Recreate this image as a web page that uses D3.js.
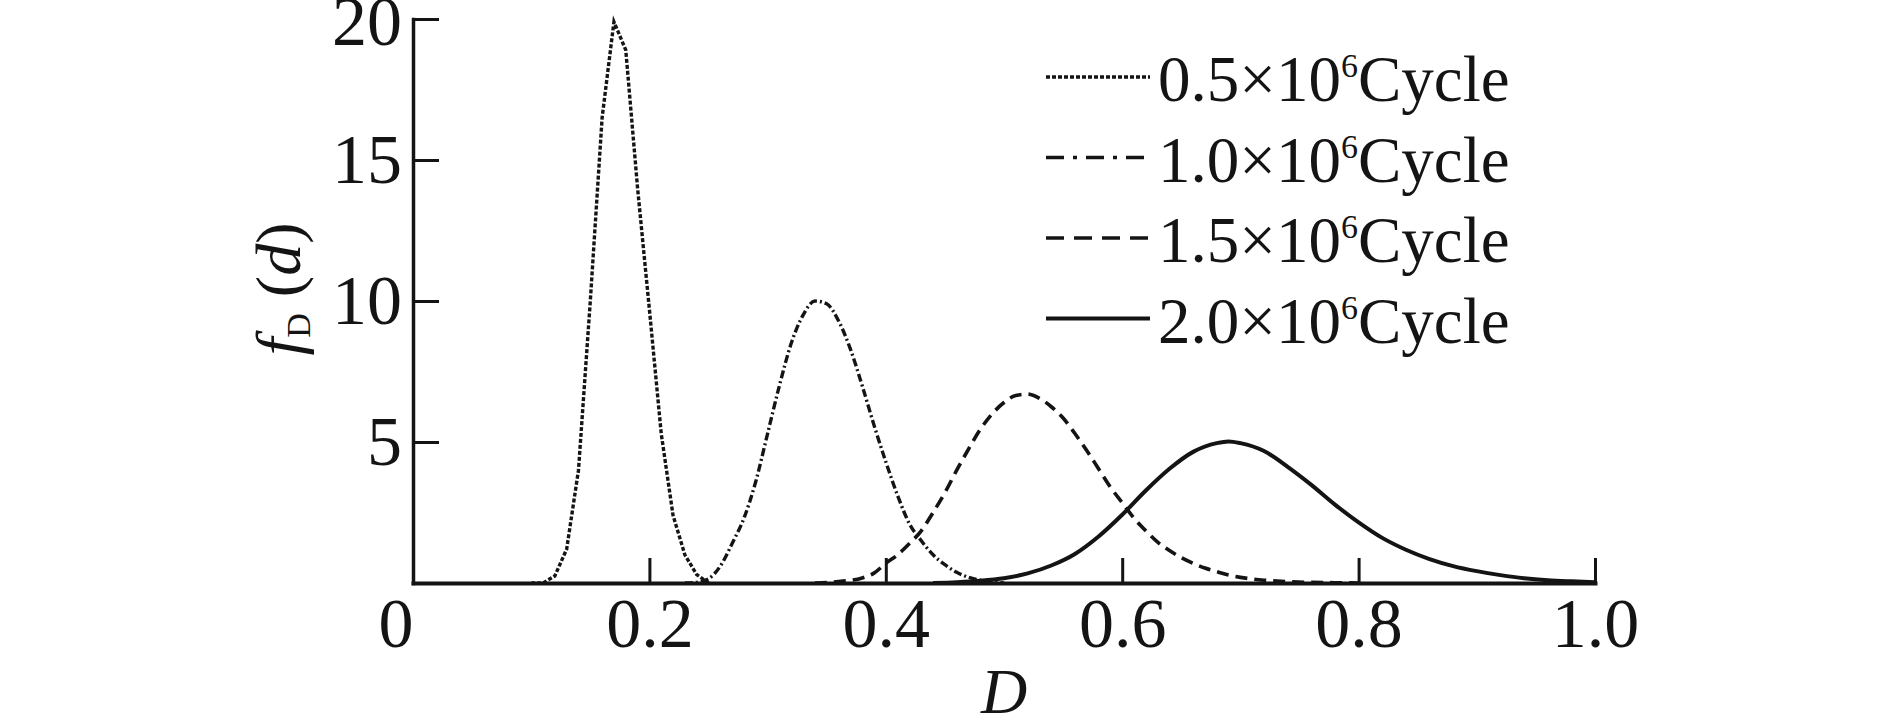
<!DOCTYPE html>
<html>
<head>
<meta charset="utf-8">
<script src="https://cdn.jsdelivr.net/npm/d3@7"></script>
<style>
  html, body { margin: 0; padding: 0; background: #fff; }
  svg { display: block; }
</style>
</head>
<body>
<div id="chart"></div>
<script>
// values
var xTicks = [0, 0.2, 0.4, 0.6, 0.8, 1.0];
var xTickLabels = ["0", "0.2", "0.4", "0.6", "0.8", "1.0"];
var yTicks = [5, 10, 15, 20];

var legendMant = ["0.5", "1.0", "1.5", "2.0"];

var d05 = [0.10, 0.11, 0.12, 0.13, 0.14, 0.15, 0.16, 0.17, 0.18, 0.19, 0.20, 0.21, 0.22, 0.23, 0.24, 0.25];
var f05 = [0, 0, 0.25, 1.2, 4.0, 10.0, 16.5, 19.9, 18.9, 14.0, 9.7, 5.3, 2.4, 1.0, 0.3, 0];

var d10 = [0.23, 0.24, 0.25, 0.26, 0.27, 0.28, 0.29, 0.30, 0.31, 0.32, 0.33, 0.34, 0.35, 0.36, 0.37, 0.38,
           0.39, 0.40, 0.41, 0.42, 0.43, 0.44, 0.45, 0.46, 0.47, 0.48, 0.49, 0.50];
var f10 = [0, 0.02, 0.15, 0.6, 1.4, 2.3, 3.6, 5.3, 7.0, 8.5, 9.5, 10.0, 9.9, 9.3, 8.3, 7.0,
           5.6, 4.3, 3.1, 2.1, 1.5, 1.0, 0.65, 0.38, 0.2, 0.1, 0.04, 0];

var d15 = [0.34, 0.36, 0.38, 0.39, 0.40, 0.41, 0.42, 0.43, 0.44, 0.45, 0.46, 0.47, 0.48, 0.49, 0.50, 0.51,
           0.52, 0.53, 0.54, 0.55, 0.56, 0.57, 0.58, 0.59, 0.60, 0.61, 0.62, 0.63, 0.64, 0.65, 0.66, 0.67,
           0.68, 0.69, 0.70, 0.72, 0.74, 0.78, 0.80];
var f15 = [0, 0.05, 0.18, 0.35, 0.7, 1.0, 1.4, 1.85, 2.5, 3.2, 4.0, 4.75, 5.45, 6.0, 6.4, 6.65,
           6.7, 6.55, 6.25, 5.85, 5.3, 4.7, 4.05, 3.4, 2.85, 2.3, 1.85, 1.45, 1.15, 0.9, 0.7, 0.53,
           0.4, 0.28, 0.2, 0.1, 0.05, 0.01, 0];

var d20 = [0.44, 0.46, 0.48, 0.50, 0.52, 0.54, 0.56, 0.58, 0.60, 0.62, 0.64, 0.66, 0.68, 0.69, 0.70, 0.72, 0.74,
           0.76, 0.78, 0.80, 0.82, 0.84, 0.86, 0.88, 0.90, 0.92, 0.94, 0.96, 0.98, 1.00];
var f20 = [0, 0.03, 0.08, 0.17, 0.34, 0.62, 1.03, 1.65, 2.42, 3.28, 4.05, 4.65, 4.96, 5.02, 4.96, 4.68, 4.12,
           3.48, 2.78, 2.15, 1.6, 1.18, 0.85, 0.6, 0.42, 0.28, 0.17, 0.1, 0.06, 0.03];

var W = 1889, H = 725;
var font = "'Liberation Serif', 'Times New Roman', serif";
var ink = "#141414";

var svg = d3.select("#chart").append("svg")
    .attr("width", W)
    .attr("height", H);

var x = d3.scaleLinear().domain([0, 1]).range([413, 1595]);
var y = d3.scaleLinear().domain([0, 20]).range([583, 19]);

var series = [
    {xs: d05, ys: f05, dash: "4,2", width: 3.4, curve: d3.curveLinear, legDash: "4,2"},
    {xs: d10, ys: f10, dash: "8,3,2,3", width: 3.4, curve: d3.curveMonotoneX, legDash: "18,9,4,9"},
    {xs: d15, ys: f15, dash: "12,7", width: 3.6, curve: d3.curveMonotoneX, legDash: "18,10"},
    {xs: d20, ys: f20, dash: null, width: 4, curve: d3.curveMonotoneX, legDash: null}
];

var line = d3.line()
    .x(function(d) { return x(d[0]); })
    .y(function(d) { return y(d[1]); });

series.forEach(function(s) {
    var pts = d3.zip(s.xs, s.ys);
    svg.append("path")
        .datum(pts)
        .attr("fill", "none")
        .attr("stroke", ink)
        .attr("stroke-width", s.width)
        .attr("stroke-dasharray", s.dash)
        .attr("d", line.curve(s.curve));
});

// axes
var xAxis = d3.axisBottom(x)
    .tickValues(xTicks)
    .tickFormat(function(d, i) { return xTickLabels[i]; })
    .tickSizeInner(-25)
    .tickSizeOuter(0)
    .tickPadding(14);

var yAxis = d3.axisLeft(y)
    .tickValues(yTicks)
    .tickFormat(d3.format("d"))
    .tickSizeInner(-26)
    .tickSizeOuter(0)
    .tickPadding(11);

var gx = svg.append("g")
    .attr("transform", "translate(0," + y(0) + ")")
    .call(xAxis);

var gy = svg.append("g")
    .attr("transform", "translate(" + x(0) + ",0)")
    .call(yAxis);

[gx, gy].forEach(function(g) {
    g.attr("font-family", font).attr("font-size", 70);
    g.selectAll("text").attr("fill", ink);
    g.selectAll("line").attr("stroke", ink).attr("stroke-width", 3);
    g.select(".domain").attr("stroke", ink).attr("stroke-linecap", "square");
});
gx.select(".domain").attr("stroke-width", 4);
gy.select(".domain").attr("stroke-width", 3.5);

// 0 has no tick mark, its label sits left of the y axis
gx.selectAll(".tick").filter(function(d) { return d === 0; })
    .each(function() {
        d3.select(this).select("line").remove();
        d3.select(this).select("text").attr("text-anchor", "end");
    });

// top label is clipped by the page edge in the original; keep it just inside
gy.selectAll(".tick").filter(function(d) { return d === 20; })
    .select("text").attr("dy", "0.36em");

// axis titles
svg.append("text")
    .attr("x", (x(0) + x(1)) / 2)
    .attr("y", 713)
    .attr("text-anchor", "middle")
    .attr("font-family", font)
    .attr("font-size", 64)
    .attr("font-style", "italic")
    .attr("fill", ink)
    .text("D");

var yl = svg.append("text")
    .attr("transform", "translate(300,289) rotate(-90)")
    .attr("text-anchor", "middle")
    .attr("font-family", font)
    .attr("font-size", 64)
    .attr("fill", ink);
yl.append("tspan").attr("font-style", "italic").text("f");
yl.append("tspan").attr("font-size", 34).attr("dy", 10).text("D");
yl.append("tspan").attr("dy", -10).text(" (");
yl.append("tspan").attr("font-style", "italic").text("d");
yl.append("tspan").text(")");

// legend
var leg = svg.append("g");
series.forEach(function(s, i) {
    var base = 101 + i * 80.5;
    leg.append("line")
        .attr("x1", 1046).attr("x2", 1150)
        .attr("y1", base - 24).attr("y2", base - 24)
        .attr("stroke", ink)
        .attr("stroke-width", s.width)
        .attr("stroke-dasharray", s.legDash);
    var t = leg.append("text")
        .attr("x", 1158)
        .attr("y", base)
        .attr("font-family", font)
        .attr("font-size", 65)
        .attr("fill", ink);
    t.append("tspan").text(legendMant[i] + "\u00D710");
    t.append("tspan").attr("font-size", 34).attr("dy", -24).text("6");
    t.append("tspan").attr("dy", 24).text("Cycle");
});
</script>
</body>
</html>
